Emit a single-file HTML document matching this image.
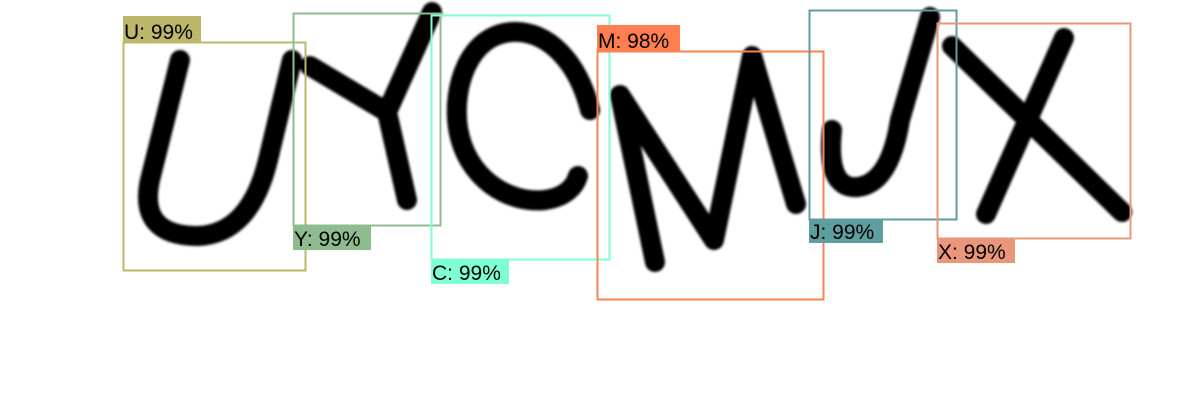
<!DOCTYPE html>
<html><head><meta charset="utf-8"><style>
html,body{margin:0;padding:0;background:#fff;width:1200px;height:420px;overflow:hidden}
svg{display:block}
text{font-family:"Liberation Sans",Arial,sans-serif;font-size:21px;fill:#000}
</style></head><body>
<svg width="1200" height="420">
<defs><filter id="bl"><feGaussianBlur stdDeviation="1.2"/></filter></defs>
<g fill="none" stroke="#000" stroke-width="20" stroke-linecap="round" stroke-linejoin="round" filter="url(#bl)">
<path d="M180,60 L150,180 Q138,236 198,236 Q250,234 268,160 L292,60"/>
<path d="M310,66 L387,112 M432,12 L387,112 L407,200"/>
<path d="M590,110 C578,62 548,30 512,32 C468,35 452,88 458,128 C466,178 508,204 545,200 C566,197 575,186 578,176"/>
<path d="M655,262 L620,95 L714,240 L752,56 L796,204"/>
<path d="M832,130 Q826,190 858,187 Q890,183 900,120 L930,17"/>
<path d="M952,46 L1122,212 M1064,38 L986,214"/>
</g>
<g>
<rect x="123.5" y="42.5" width="182" height="228" fill="none" stroke="#bdb76b" stroke-width="2"/>
<rect x="123" y="16" width="78" height="26" fill="#bdb76b"/>
<text x="124" y="39">U: 99%</text></g>
<g>
<rect x="293.5" y="13.5" width="147" height="212" fill="none" stroke="#8fbc8f" stroke-width="2"/>
<rect x="293" y="225" width="78" height="25" fill="#8fbc8f"/>
<text x="294" y="246">Y: 99%</text></g>
<g>
<rect x="431.5" y="15.5" width="178" height="244" fill="none" stroke="#7fffd4" stroke-width="2"/>
<rect x="431" y="259" width="78" height="25" fill="#7fffd4"/>
<text x="432" y="280">C: 99%</text></g>
<g>
<rect x="597.5" y="51.5" width="226" height="248" fill="none" stroke="#ff7f50" stroke-width="2"/>
<rect x="597" y="25" width="83" height="26" fill="#ff7f50"/>
<text x="598" y="48">M: 98%</text></g>
<g>
<rect x="809.5" y="10.5" width="147" height="209" fill="none" stroke="#5f9ea0" stroke-width="2"/>
<rect x="809" y="219" width="74" height="24" fill="#5f9ea0"/>
<text x="810" y="239">J: 99%</text></g>
<g>
<rect x="937.5" y="23.5" width="193" height="215" fill="none" stroke="#e9967a" stroke-width="2"/>
<rect x="937" y="238" width="78" height="25" fill="#e9967a"/>
<text x="938" y="259">X: 99%</text></g>
</svg>
</body></html>
